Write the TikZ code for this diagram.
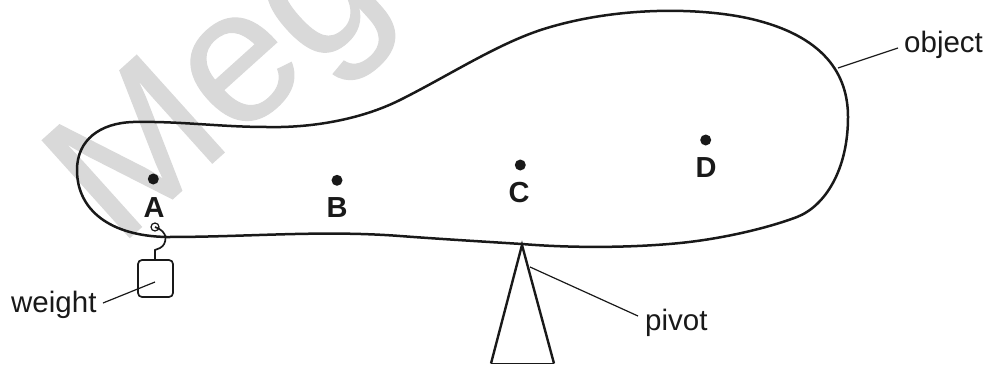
\documentclass[tikz,border=0pt]{standalone}
\usepackage{fontspec}
\setmainfont{Liberation Sans}
\newfontfamily\wmfont[FakeBold=0.6]{Liberation Sans}
\tikzset{
 lbl/.style={inner sep=0pt,anchor=base west,font=\fontsize{29.5}{32}\selectfont,text=black!90},
 ptl/.style={inner sep=0pt,anchor=base,font=\bfseries\fontsize{29}{32}\selectfont,text=black!90},
 dot/.style={circle,fill=black!90,inner sep=0pt,minimum size=11pt},
 outline/.style={line width=2.5pt,draw=black!90,line join=round},
 thin line/.style={line width=1.2pt,draw=black!90},
 wm/.style={inner sep=0pt,text=black!15,rotate=42,anchor=base west,font=\wmfont\fontsize{190}{200}\selectfont}
}
\begin{document}
\begin{tikzpicture}[x=1pt,y=-1pt]
\useasboundingbox (0,0) rectangle (984,364);
\begin{scope}
\clip (0,0) rectangle (984,364);
\node[wm] (mark) at (118,248) {Meg};
\end{scope}
\draw[outline] (522,244) .. controls (570,248) and (630,248) .. (680,243)
 .. controls (720,239) and (765,229) .. (797,217)
 .. controls (825,206) and (848,170) .. (848,117)
 .. controls (848,75) and (825,35) .. (747,18)
 .. controls (700,8) and (620,6) .. (547,28)
 .. controls (500,42) and (450,75) .. (400,100)
 .. controls (360,120) and (310,128) .. (267,127)
 .. controls (220,127) and (180,121) .. (133,122)
 .. controls (100,123) and (77,140) .. (77,170)
 .. controls (77,210) and (110,236) .. (167,237)
 .. controls (250,237) and (320,230) .. (400,236)
 .. controls (440,239) and (490,242) .. cycle;
\node[dot] (a) at (153.3,179) {};
\node[dot] (b) at (337,180.3) {};
\node[dot] (c) at (520.3,165) {};
\node[dot] (d) at (705.7,140) {};
\node[ptl] (la) at (154,217) {A};
\node[ptl] (lb) at (337,217) {B};
\node[ptl] (lc) at (519,202) {C};
\node[ptl] (ld) at (706,177) {D};
\node[lbl] (obj) at (904,52) {object};
\node[lbl] (piv) at (645,330) {pivot};
\node[lbl] (wei) at (11,312) {weight};
\coordinate (objend) at (838,68);
\coordinate (objstart) at (898,48);
\draw[thin line] (objstart) -- (objend);
% pivot
\coordinate (apex) at (522,245);
\coordinate (pl) at (491,363.5);
\coordinate (pr) at (554,363.5);
\draw[line width=2.4pt,draw=black!90,line join=miter] (pl) -- (apex) -- (pr);
\draw[line width=1.2pt,draw=black!90] (pl) -- (pr);
\coordinate (pivend) at (530,267);
\coordinate (pivstart) at (638,316);
\draw[thin line] (pivstart) -- (pivend);
% weight
\node[draw=black!90,line width=1.7pt,rounded corners=4pt,minimum width=35pt,minimum height=37pt,inner sep=0pt] (box) at (155.5,278.5) {};
\node[draw=black!90,circle,line width=1.2pt,inner sep=0pt,minimum size=8pt] (ring) at (155,227) {};
\draw[line width=1.7pt,draw=black!90] (155,260) -- (155,250) -- (160,248) .. controls (164,246) and (165.5,242) .. (165.5,238) .. controls (165.5,233) and (161,229) .. (155,227);
\coordinate (weiend) at (155,282);
\coordinate (weistart) at (103,303);
\draw[thin line] (weistart) -- (weiend);
\end{tikzpicture}
\end{document}
